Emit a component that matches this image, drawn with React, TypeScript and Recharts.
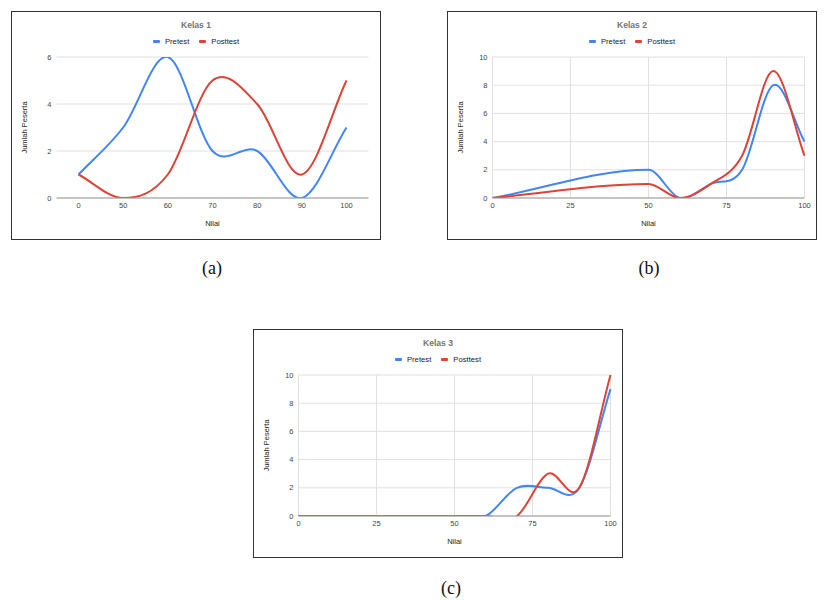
import { LineChart, Line, XAxis, YAxis, CartesianGrid, Label } from 'recharts';

// Nilai (score) categories shared by the three classes
const NILAI = [0, 50, 60, 70, 80, 90, 100];

const KELAS1_PRETEST = [1, 3, 6, 2, 2, 0, 3];
const KELAS1_POSTTEST = [1, 0, 1, 5, 4, 1, 5];

const KELAS2_PRETEST = [0, 2, 0, 1, 2, 8, 4];
const KELAS2_POSTTEST = [0, 1, 0, 1, 3, 9, 3];

const KELAS3_PRETEST = [0, 0, 0, 2, 2, 2, 9];
const KELAS3_POSTTEST = [0, 0, 0, 0, 3, 2, 10];

const Y_TICKS_SMALL = [0, 2, 4, 6];
const Y_TICKS_LARGE = [0, 2, 4, 6, 8, 10];
const X_TICKS_NUMERIC = [0, 25, 50, 75, 100];

const BLUE = '#4285f4';
const RED = '#db4437';
const SANS = '"Liberation Sans", Arial, sans-serif';

const buildRows = (pre: number[], post: number[]) =>
  NILAI.map((nilai, i) => ({ nilai, pretest: pre[i], posttest: post[i] }));

// hermite spline with finite-difference slopes measured along x,
// close to the "function" curves google charts draws (handles uneven spacing)
function smoothCurve(context: any) {
  let xs: number[] = [];
  let ys: number[] = [];
  return {
    areaStart() {},
    areaEnd() {},
    lineStart() {
      xs = [];
      ys = [];
    },
    point(x: number, y: number) {
      xs.push(+x);
      ys.push(+y);
    },
    lineEnd() {
      const n = xs.length;
      if (!n) return;
      context.moveTo(xs[0], ys[0]);
      if (n === 1) return;
      // ends follow the secant to their neighbour
      const slope = (i: number) => {
        const a = Math.max(0, i - 1);
        const b = Math.min(n - 1, i + 1);
        return (ys[b] - ys[a]) / (xs[b] - xs[a]);
      };
      for (let i = 0; i < n - 1; i++) {
        const dx = xs[i + 1] - xs[i];
        const s0 = slope(i);
        const s1 = slope(i + 1);
        context.bezierCurveTo(
          xs[i] + dx / 3,
          ys[i] + (s0 * dx) / 3,
          xs[i + 1] - dx / 3,
          ys[i + 1] - (s1 * dx) / 3,
          xs[i + 1],
          ys[i + 1]
        );
      }
    },
  };
}

const LegendItem = ({ color, label }: { color: string; label: string }) => (
  <span style={{ display: 'inline-flex', alignItems: 'center', margin: '0 5px' }}>
    <span style={{ width: 7, height: 2.5, borderRadius: 1, background: color, marginRight: 5 }} />
    <span>{label}</span>
  </span>
);

interface PanelProps {
  left: number;
  top: number;
  title: string;
  pre: number[];
  post: number[];
  numeric: boolean;
  yTicks: number[];
}

const Panel = ({ left, top, title, pre, post, numeric, yTicks }: PanelProps) => {
  const rows = buildRows(pre, post);
  const yMax = yTicks[yTicks.length - 1];
  return (
    <div
      style={{
        position: 'absolute',
        left,
        top,
        width: 370,
        height: 229,
        border: '1.5px solid #333',
        boxSizing: 'border-box',
        background: '#fff',
        fontFamily: SANS,
      }}
    >
      <div
        style={{
          position: 'absolute',
          top: 8,
          width: '100%',
          height: 11,
          lineHeight: '11px',
          textAlign: 'center',
          fontSize: 8.6,
          fontWeight: 'bold',
          color: '#757575',
        }}
      >
        {title}
      </div>
      <div
        style={{
          position: 'absolute',
          top: 24,
          width: '100%',
          height: 11,
          lineHeight: '11px',
          display: 'flex',
          justifyContent: 'center',
          fontSize: 7.7,
          color: '#222',
        }}
      >
        <LegendItem color={BLUE} label="Pretest" />
        <LegendItem color={RED} label="Posttest" />
      </div>
      <LineChart
        width={367}
        height={226}
        data={rows}
        margin={{ top: 45, right: 10.5, bottom: 10, left: 0 }}
        style={{ position: 'absolute', left: 0, top: 0 }}
      >
        <CartesianGrid stroke="#e0e0e0" vertical={numeric} />
        {numeric ? (
          <XAxis
            dataKey="nilai"
            type="number"
            domain={[0, 100]}
            ticks={X_TICKS_NUMERIC}
            height={30}
            tickLine={false}
            tickSize={4}
            tickMargin={1}
            stroke="#999"
            tick={{ fontSize: 7.5, fill: '#444', fontFamily: SANS }}
          >
            <Label value="Nilai" position="insideBottom" offset={2} style={{ fontSize: 7.5, fill: '#222', fontFamily: SANS }} />
          </XAxis>
        ) : (
          <XAxis
            dataKey="nilai"
            type="category"
            padding={{ left: 22, right: 22 }}
            height={30}
            tickLine={false}
            tickSize={4}
            tickMargin={1}
            stroke="#999"
            tick={{ fontSize: 7.5, fill: '#444', fontFamily: SANS }}
          >
            <Label value="Nilai" position="insideBottom" offset={2} style={{ fontSize: 7.5, fill: '#222', fontFamily: SANS }} />
          </XAxis>
        )}
        <YAxis
          width={44.5}
          domain={[0, yMax]}
          ticks={yTicks}
          allowDataOverflow
          axisLine={false}
          tickLine={false}
          tickSize={4}
          tickMargin={1}
          tick={{ fontSize: 7.5, fill: '#444', fontFamily: SANS }}
        >
          <Label
            value="Jumlah Peserta"
            angle={-90}
            position="insideLeft"
            offset={12.5}
            style={{ fontSize: 7.5, fill: '#222', fontFamily: SANS, textAnchor: 'middle' }}
          />
        </YAxis>
        <Line
          dataKey="pretest"
          type={smoothCurve as any}
          stroke={BLUE}
          strokeWidth={2}
          dot={false}
          activeDot={false}
          isAnimationActive={false}
        />
        <Line
          dataKey="posttest"
          type={smoothCurve as any}
          stroke={RED}
          strokeWidth={2}
          dot={false}
          activeDot={false}
          isAnimationActive={false}
        />
      </LineChart>
    </div>
  );
};

const Caption = ({ x, y, text }: { x: number; y: number; text: string }) => (
  <div
    style={{
      position: 'absolute',
      left: x - 20,
      top: y - 10,
      width: 40,
      height: 20,
      lineHeight: '20px',
      textAlign: 'center',
      fontFamily: '"Liberation Serif", "Times New Roman", serif',
      fontSize: 18,
      color: '#111',
    }}
  >
    {text}
  </div>
);

export default function App() {
  return (
    <div style={{ position: 'absolute', left: 0, top: 0, width: 830, height: 601, background: '#fff' }}>
      <Panel left={11} top={11} title="Kelas 1" pre={KELAS1_PRETEST} post={KELAS1_POSTTEST} numeric={false} yTicks={Y_TICKS_SMALL} />
      <Panel left={447} top={11} title="Kelas 2" pre={KELAS2_PRETEST} post={KELAS2_POSTTEST} numeric yTicks={Y_TICKS_LARGE} />
      <Panel left={253} top={329} title="Kelas 3" pre={KELAS3_PRETEST} post={KELAS3_POSTTEST} numeric yTicks={Y_TICKS_LARGE} />
      <Caption x={212} y={268} text="(a)" />
      <Caption x={649} y={268} text="(b)" />
      <Caption x={451} y={588} text="(c)" />
    </div>
  );
}
